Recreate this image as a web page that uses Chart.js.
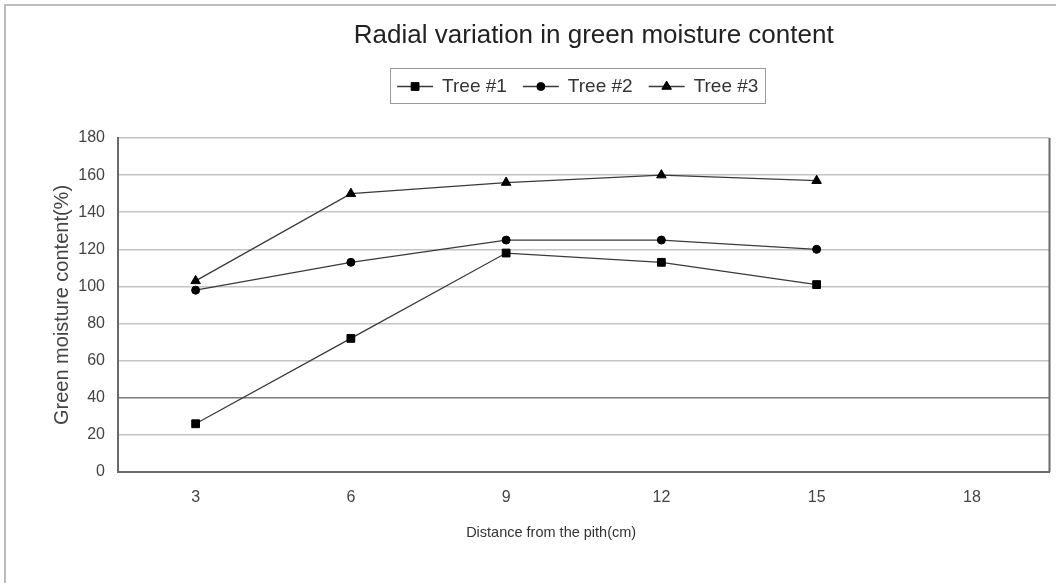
<!DOCTYPE html>
<html>
<head>
<meta charset="utf-8">
<script src="https://cdn.jsdelivr.net/npm/chart.js@4/dist/chart.umd.min.js"></script>
<style>
  html, body { margin: 0; padding: 0; background: #fff; }
  #wrap { width: 1056px; height: 583px; position: relative; }
</style>
</head>
<body>
<div id="wrap"><canvas id="c" width="1056" height="583"></canvas></div>
<script>
// ---- data ----
const categories = ['3', '6', '9', '12', '15', '18'];
const tree1 = [26, 72, 118, 113, 101, null];
const tree2 = [98, 113, 125, 125, 120, null];
const tree3 = [103, 150, 156, 160, 157, null];
const seriesNames = ['Tree #1', 'Tree #2', 'Tree #3'];
const yMin = 0, yMax = 180, yStep = 20;
const chartTitle = 'Radial variation in green moisture content';
const xTitle = 'Distance from the pith(cm)';
const yTitle = 'Green moisture content(%)';

const REG = '"Liberation Sans", Arial, sans-serif';

const frame = {
  id: 'frame',
  beforeDraw(chart) {
    const ctx = chart.ctx;
    ctx.save();
    ctx.fillStyle = '#fff';
    ctx.fillRect(0, 0, chart.width, chart.height);
    ctx.strokeStyle = '#bdbdbd';
    ctx.lineWidth = 2;
    ctx.strokeRect(5, 5, chart.width + 20, chart.height + 20);
    ctx.restore();
  },
  afterDraw(chart) {
    const ctx = chart.ctx, ca = chart.chartArea;
    ctx.save();
    // right border of plot area
    ctx.strokeStyle = '#6a6a6a';
    ctx.lineWidth = 2;
    ctx.beginPath();
    ctx.moveTo(ca.right, ca.top);
    ctx.lineTo(ca.right, ca.bottom);
    ctx.stroke();
    // chart title
    const cx = (ca.left + ca.right) / 2;
    ctx.fillStyle = '#222';
    ctx.font = '26px ' + REG;
    ctx.textAlign = 'center';
    ctx.textBaseline = 'middle';
    ctx.fillText(chartTitle, cx + 10, 36);
    // x axis title
    ctx.font = '14.5px ' + REG;
    ctx.fillStyle = '#333';
    ctx.fillText(xTitle, ca.left + (ca.right - ca.left) * 0.465, 533);
    // boxed legend
    ctx.font = '19px ' + REG;
    const sample = 36, gap1 = 9, gap2 = 16, padX = 7, boxTop = 68, boxH = 35;
    const items = chart.data.datasets.map(ds => ({ ds, w: sample + gap1 + ctx.measureText(ds.label).width }));
    const total = items.reduce((a, it) => a + it.w, 0) + gap2 * (items.length - 1);
    let x = cx - 6 - total / 2;
    ctx.strokeStyle = '#9a9a9a';
    ctx.lineWidth = 1;
    ctx.strokeRect(Math.round(x - padX) + 0.5, boxTop + 0.5, Math.round(total + 2 * padX), boxH);
    const yc = boxTop + boxH / 2 + 1;
    items.forEach(it => {
      const ds = it.ds;
      ctx.strokeStyle = ds.borderColor;
      ctx.lineWidth = ds.borderWidth;
      ctx.beginPath();
      ctx.moveTo(x, yc);
      ctx.lineTo(x + sample, yc);
      ctx.stroke();
      ctx.fillStyle = ds.pointBackgroundColor;
      ctx.strokeStyle = ds.pointBorderColor;
      ctx.lineWidth = 1;
      Chart.helpers.drawPoint(ctx, { pointStyle: ds.pointStyle, radius: ds.pointRadius, borderWidth: 1, rotation: 0 }, x + sample / 2, yc);
      ctx.fillStyle = '#333';
      ctx.textAlign = 'left';
      ctx.fillText(ds.label, x + sample + gap1, yc);
      x += it.w + gap2;
    });
    ctx.restore();
  }
};

function mkDs(label, data, style, r) {
  return {
    label, data,
    borderColor: '#3a3a3a',
    borderWidth: 1.3,
    pointStyle: style,
    pointRadius: r,
    pointHoverRadius: r,
    pointBackgroundColor: '#000',
    pointBorderColor: '#000',
    pointBorderWidth: 1,
    tension: 0,
    spanGaps: false
  };
}

new Chart(document.getElementById('c'), {
  type: 'line',
  data: {
    labels: categories,
    datasets: [
      mkDs(seriesNames[0], tree1, 'rect', 5.5),
      mkDs(seriesNames[1], tree2, 'circle', 4),
      mkDs(seriesNames[2], tree3, 'triangle', 5.5)
    ]
  },
  options: {
    responsive: false,
    animation: false,
    events: [],
    layout: { padding: { left: 5, right: 4, top: 138, bottom: 0 } },
    plugins: {
      legend: { display: false },
      title: { display: false },
      tooltip: { enabled: false }
    },
    scales: {
      x: {
        type: 'category',
        offset: true,
        grid: { display: false, drawTicks: false },
        border: { color: '#6a6a6a', width: 2 },
        ticks: { color: '#444', font: { family: REG, size: 16 }, padding: 16 },
        afterFit(s) { s.height = 111; }
      },
      y: {
        min: yMin, max: yMax,
        ticks: { stepSize: yStep, color: '#444', font: { family: REG, size: 16 }, padding: 13 },
        grid: {
          drawTicks: false,
          color: ctx => (ctx.tick && ctx.tick.value === 40) ? '#7a7a7a' : '#c4c4c4',
          lineWidth: 1.5
        },
        border: { color: '#6a6a6a', width: 2 },
        title: {
          display: true, text: yTitle, color: '#444',
          font: { family: REG, size: 20 },
          padding: { top: 45, bottom: 0 }
        },
        afterFit(s) { s.width = 113; }
      }
    }
  },
  plugins: [frame]
});
</script>
</body>
</html>
